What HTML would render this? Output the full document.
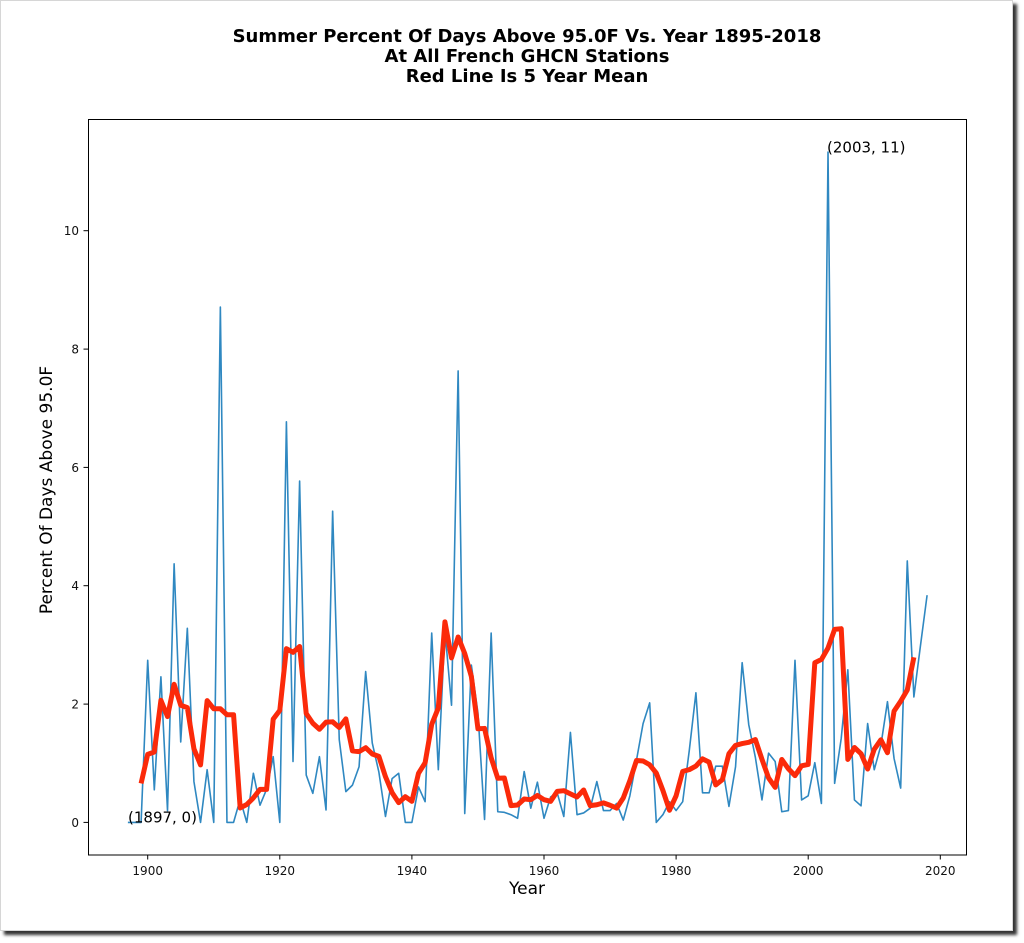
<!DOCTYPE html>
<html>
<head>
<meta charset="utf-8">
<style>
  html, body { margin:0; padding:0; background:#ffffff; }
  body { width:1024px; height:943px; position:relative; overflow:hidden; }
  #frame { position:absolute; left:0; top:0; width:1011px; height:929px; border:1px solid #d6d6d6; background:#fff; box-shadow:4px 4px 3px rgba(0,0,0,0.8); }
  svg { position:absolute; left:0; top:0; }
  text { font-family:"DejaVu Sans","Liberation Sans",sans-serif; }
</style>
</head>
<body>
<div id="frame"></div>
<svg width="1024" height="943" viewBox="0 0 1024 943" xmlns="http://www.w3.org/2000/svg">
  <!-- Title -->
  <g font-weight="bold" font-size="18" text-anchor="middle" fill="#000">
    <text x="527" y="42">Summer Percent Of Days Above 95.0F Vs. Year 1895-2018</text>
    <text x="527" y="62">At All French GHCN Stations</text>
    <text x="527" y="82">Red Line Is 5 Year Mean</text>
  </g>

  <!-- Data -->
  <g transform="translate(147.7,822.4) scale(6.605,-59.17)">
    <polyline fill="none" stroke="#2f88c1" stroke-width="1.6" vector-effect="non-scaling-stroke" stroke-linejoin="round"
      points="-3,0 -2,0 -1,0 0,2.74 1,0.55 2,2.46 3,0.2 4,4.37 5,1.36 6,3.28 7,0.69 8,0 9,0.89 10,0 11,8.71 12,0 13,0 14,0.39 15,0 16,0.83 17,0.29 18,0.56 19,1.11 20,0 21,6.77 22,1.03 23,5.77 24,0.8 25,0.49 26,1.11 27,0.21 28,5.26 29,1.4 30,0.52 31,0.63 32,0.94 33,2.55 34,1.34 35,0.85 36,0.1 37,0.74 38,0.83 39,0 40,0 41,0.6 42,0.35 43,3.2 44,0.89 45,3.25 46,1.98 47,7.63 48,0.15 49,2.66 50,1.85 51,0.05 52,3.2 53,0.18 54,0.17 55,0.13 56,0.07 57,0.86 58,0.24 59,0.68 60,0.07 61,0.43 62,0.5 63,0.1 64,1.52 65,0.13 66,0.16 67,0.24 68,0.69 69,0.2 70,0.2 71,0.32 72,0.04 73,0.45 74,1.05 75,1.67 76,2.02 77,0 78,0.13 79,0.35 80,0.2 81,0.35 82,1.22 83,2.19 84,0.5 85,0.5 86,0.95 87,0.95 88,0.27 89,0.94 90,2.7 91,1.65 92,1.1 93,0.38 94,1.17 95,1.03 96,0.18 97,0.2 98,2.74 99,0.38 100,0.45 101,1.01 102,0.32 103,11.33 104,0.66 105,1.42 106,2.58 107,0.38 108,0.28 109,1.67 110,0.89 111,1.3 112,2.04 113,1.08 114,0.58 115,4.42 116,2.12 117,2.99 118,3.84"/>
    <polyline fill="none" stroke="#fb2a0a" stroke-width="5" vector-effect="non-scaling-stroke" stroke-linejoin="round" stroke-linecap="butt"
      points="-1,0.658 0,1.15 1,1.19 2,2.064 3,1.788 4,2.334 5,1.98 6,1.94 7,1.244 8,0.972 9,2.058 10,1.92 11,1.92 12,1.82 13,1.82 14,0.244 15,0.302 16,0.414 17,0.558 18,0.558 19,1.746 20,1.894 21,2.936 22,2.874 23,2.972 24,1.84 25,1.676 26,1.574 27,1.694 28,1.7 29,1.604 30,1.75 31,1.208 32,1.196 33,1.262 34,1.156 35,1.116 36,0.772 37,0.504 38,0.334 39,0.434 40,0.356 41,0.83 42,1.008 43,1.658 44,1.934 45,3.39 46,2.78 47,3.134 48,2.854 49,2.468 50,1.582 51,1.588 52,1.092 53,0.746 54,0.75 55,0.284 56,0.294 57,0.396 58,0.384 59,0.456 60,0.384 61,0.356 62,0.524 63,0.536 64,0.482 65,0.43 66,0.548 67,0.284 68,0.298 69,0.33 70,0.29 71,0.242 72,0.412 73,0.706 74,1.046 75,1.038 76,0.974 77,0.834 78,0.54 79,0.206 80,0.45 81,0.862 82,0.892 83,0.952 84,1.074 85,1.018 86,0.634 87,0.722 88,1.162 89,1.302 90,1.332 91,1.354 92,1.4 93,1.066 94,0.752 95,0.592 96,1.064 97,0.906 98,0.79 99,0.956 100,0.98 101,2.698 102,2.754 103,2.948 104,3.262 105,3.274 106,1.064 107,1.266 108,1.162 109,0.902 110,1.236 111,1.396 112,1.178 113,1.88 114,2.048 115,2.238 116,2.79"/>
  </g>

  <!-- Annotations -->
  <g font-size="15" fill="#000">
    <text x="128" y="822.4">(1897, 0)</text>
    <text x="827" y="152.5">(2003, 11)</text>
  </g>

  <!-- Axes box -->
  <rect x="88.5" y="119.5" width="878" height="735.5" fill="none" stroke="#000" stroke-width="1"/>

  <!-- X ticks -->
  <g stroke="#000" stroke-width="1">
    <line x1="147.7" y1="855" x2="147.7" y2="859.5"/>
    <line x1="279.8" y1="855" x2="279.8" y2="859.5"/>
    <line x1="411.9" y1="855" x2="411.9" y2="859.5"/>
    <line x1="544.0" y1="855" x2="544.0" y2="859.5"/>
    <line x1="676.1" y1="855" x2="676.1" y2="859.5"/>
    <line x1="808.2" y1="855" x2="808.2" y2="859.5"/>
    <line x1="940.3" y1="855" x2="940.3" y2="859.5"/>
  </g>
  <g font-size="12" text-anchor="middle" fill="#111">
    <text x="147.7" y="875">1900</text>
    <text x="279.8" y="875">1920</text>
    <text x="411.9" y="875">1940</text>
    <text x="544.0" y="875">1960</text>
    <text x="676.1" y="875">1980</text>
    <text x="808.2" y="875">2000</text>
    <text x="940.3" y="875">2020</text>
  </g>

  <!-- Y ticks -->
  <g stroke="#000" stroke-width="1">
    <line x1="83.5" y1="822.4" x2="88.5" y2="822.4"/>
    <line x1="83.5" y1="704.1" x2="88.5" y2="704.1"/>
    <line x1="83.5" y1="585.7" x2="88.5" y2="585.7"/>
    <line x1="83.5" y1="467.4" x2="88.5" y2="467.4"/>
    <line x1="83.5" y1="349.1" x2="88.5" y2="349.1"/>
    <line x1="83.5" y1="230.7" x2="88.5" y2="230.7"/>
  </g>
  <g font-size="12" text-anchor="end" fill="#111">
    <text x="79" y="826.8">0</text>
    <text x="79" y="708.5">2</text>
    <text x="79" y="590.1">4</text>
    <text x="79" y="471.8">6</text>
    <text x="79" y="353.5">8</text>
    <text x="79" y="235.1">10</text>
  </g>

  <!-- Axis labels -->
  <text x="527" y="894" font-size="17" text-anchor="middle" fill="#000">Year</text>
  <text transform="translate(52,490) rotate(-90)" font-size="17" text-anchor="middle" fill="#000">Percent Of Days Above 95.0F</text>
</svg>
</body>
</html>
